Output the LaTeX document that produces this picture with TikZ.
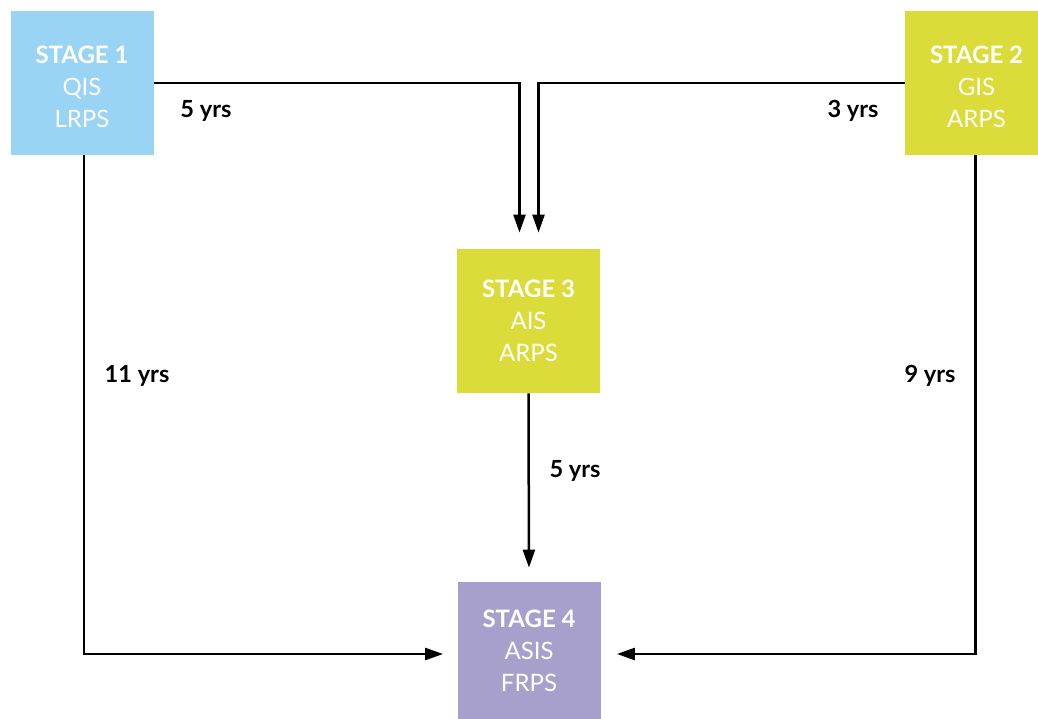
\documentclass[tikz,border=0pt]{standalone}
\usepackage{fontspec}
\setmainfont{Lato}
\usepackage{tikz}
\usetikzlibrary{arrows.meta, positioning, calc}
\definecolor{stageblue}{HTML}{99D4F4}
\definecolor{stagelime}{HTML}{DBDC3A}
\definecolor{stagepurple}{HTML}{A7A0CD}
\tikzstyle{stagebox} = [rectangle, minimum width=71.5pt, minimum height=72pt, inner sep=0pt, align=center, text=white, font=\fontsize{12}{16}\selectfont]
\tikzstyle{arrow} = [line width=1.25pt, -{Triangle[length=9pt,width=6pt]}]
\tikzstyle{yrs} = [font=\fontsize{11.8}{13}\selectfont\bfseries]

\begin{document}
\begin{tikzpicture}[x=0.5pt, y=-0.5pt]
        \useasboundingbox (0,0) rectangle (1038,718);
        \node[stagebox, fill=stageblue] (s1) at (82,83) {\rule{0pt}{12.5pt}\textbf{STAGE 1}\\QIS\\LRPS};
        \node[stagebox, fill=stagelime] (s2) at (976.5,83) {\rule{0pt}{12.5pt}\textbf{STAGE 2}\\GIS\\ARPS};
        \node[stagebox, fill=stagelime] (s3) at (528.5,321) {\textbf{STAGE 3}\\AIS\\ARPS};
        \node[stagebox, fill=stagepurple] (s4) at (529,654) {\textbf{STAGE 4}\\ASIS\\FRPS\rule[-3pt]{0pt}{0pt}};
        % connectors
        \draw[arrow, shorten >=8pt] (s1.east) -| ($(s3.north)+(-9,0)$);
        \draw[arrow, shorten >=8pt] (s2.west) -| ($(s3.north)+(10,0)$);
        \draw[arrow, shorten >=7pt] (s3.south) -- (s4.north);
        \draw[arrow, shorten >=7pt] ($(s1.south)+(2,0)$) |- (s4.west);
        \draw[arrow, shorten >=8pt] ($(s2.south)+(-1,0)$) |- (s4.east);
        % labels
        \node[yrs] (l13) at (206,111) {5 yrs};
        \node[yrs] (l23) at (853,111) {3 yrs};
        \node[yrs] (l14) at (137,376) {11 yrs};
        \node[yrs] (l24) at (930,376) {9 yrs};
        \node[yrs] (l34) at (575,471) {5 yrs};
    \end{tikzpicture}
\end{document}
